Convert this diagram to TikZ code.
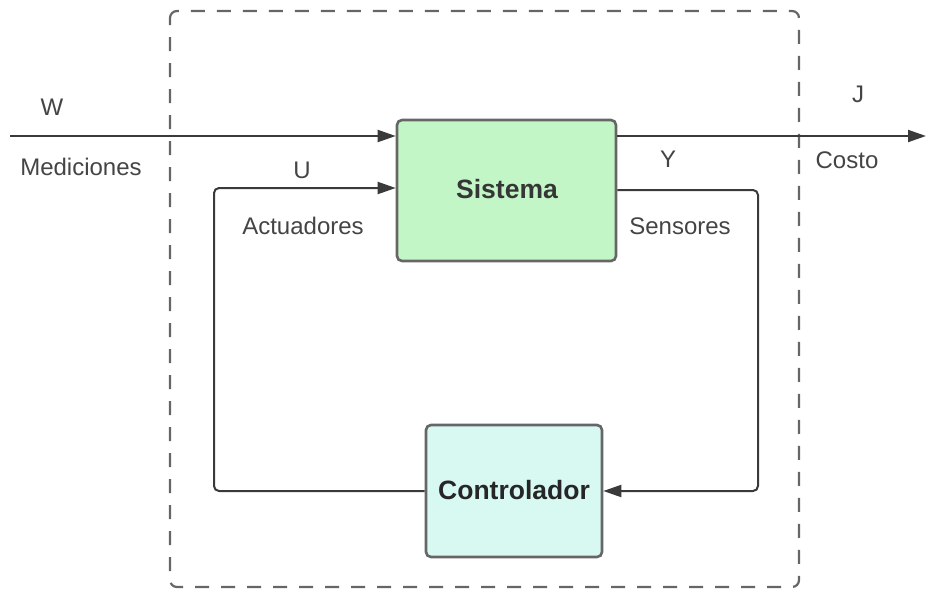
\documentclass[tikz,border=0pt]{standalone}
\usepackage{fontspec}
\setmainfont{Liberation Sans}
\usetikzlibrary{arrows.meta}
\definecolor{edgegray}{HTML}{666666}
\definecolor{linegray}{HTML}{3A3A3A}
\definecolor{textgray}{HTML}{444444}
\definecolor{sysgreen}{HTML}{C3F6C7}
\definecolor{ctrlcyan}{HTML}{D8F8F2}
\begin{document}
\begin{tikzpicture}[x=1pt,y=-1pt,
  block/.style={draw=edgegray, line width=2.6pt, rounded corners=5pt, inner sep=0pt},
  wire/.style={draw=linegray, line width=2pt, rounded corners=5pt},
  tip/.style={-{Triangle[length=18pt,width=12pt]}},
  lbl/.style={text=textgray, font=\fontsize{24}{27}\selectfont, inner sep=0pt},
  title/.style={font=\fontsize{26.5}{30}\selectfont\bfseries, inner sep=0pt}]
\useasboundingbox (0,0) rectangle (926,590);
% dashed system boundary
\draw[edgegray, line width=2.2pt, dash pattern=on 14pt off 12pt, dash phase=7pt, rounded corners=7pt]
  (170,11) rectangle (799,587);
% blocks
\node[block, fill=sysgreen, minimum width=219pt, minimum height=141pt] (sis) at (506.5,190.5) {};
\node[title, text=textgray!80!black] (sist) at (507,189) {Sistema};
\node[block, fill=ctrlcyan, minimum width=176pt, minimum height=132pt] (ctl) at (514,491) {};
\node[title, text=black!85] (ctlt) at (514,490) {Controlador};
% connection points
\coordinate (win) at (10,136);
\coordinate (jout) at (926,136);
\coordinate (uL) at (214,491);
\coordinate (uT) at (214,188);
\coordinate (yR) at (758,190);
\coordinate (yB) at (758,491);
% input W
\draw[wire, tip] (win) -- (sis.west |- win);
% output J
\draw[wire, tip] (sis.east |- jout) -- (jout);
% feedback paths
\draw[wire, tip] (ctl.west |- uL) -- (uL) -- (uT) -- (sis.west |- uT);
\draw[wire, tip] (sis.east |- yR) -- (yR) -- (yB) -- (ctl.east |- yB);
% labels
\node[lbl] (lw) at (52,107) {W};
\node[lbl] (lmed) at (81,167) {Mediciones};
\node[lbl] (lu) at (302,170) {U};
\node[lbl] (lact) at (303,226) {Actuadores};
\node[lbl] (ly) at (668,159) {Y};
\node[lbl] (lsen) at (680,226) {Sensores};
\node[lbl] (lj) at (858,94) {J};
\node[lbl] (lcos) at (847,160) {Costo};
\end{tikzpicture}
\end{document}
